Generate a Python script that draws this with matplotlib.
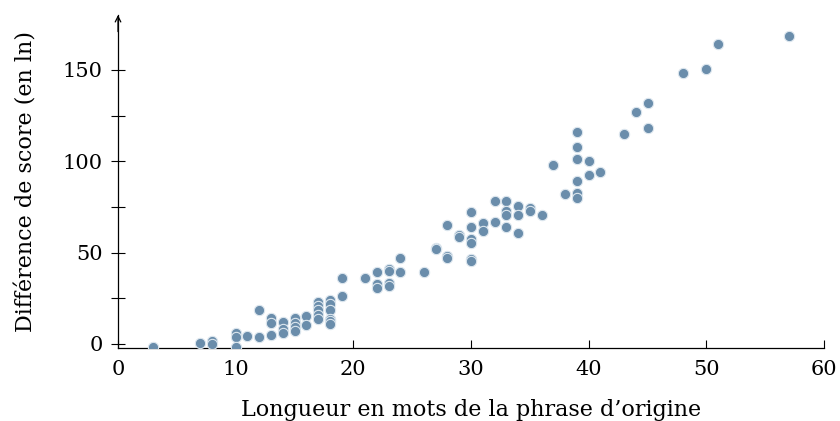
import matplotlib
matplotlib.use("Agg")
import matplotlib.pyplot as plt
import numpy as np

# sentence length (words) and score difference
longueur = [3, 7, 8, 8, 10, 10, 10, 11, 12, 12,
            13, 13, 13, 14, 14, 14, 15, 15, 15, 15,
            16, 16, 17, 17, 17, 17, 17, 18, 18, 18,
            18, 18, 18, 19, 19, 21, 22, 22, 22, 23,
            23, 23, 23, 24, 24, 26, 27, 27, 28, 28,
            28, 29, 29, 30, 30, 30, 30, 30, 30, 31,
            31, 32, 32, 33, 33, 33, 33, 34, 34, 34,
            35, 35, 36, 37, 38, 39, 39, 39, 39, 39,
            39, 40, 40, 41, 43, 44, 45, 45, 48, 50,
            51, 57]
difference = [-1.5, 0.5, 1.6, 0.0, 6.2, 3.7, -1.5, 4.5, 18.6, 3.7,
              14.0, 11.3, 4.9, 12.2, 8.0, 6.2, 14.0, 11.7, 9.5, 7.1,
              15.3, 10.2, 23.2, 21.0, 18.6, 16.0, 13.5, 24.0, 21.7, 18.6,
              13.8, 12.5, 10.8, 36.3, 26.3, 36.3, 39.4, 32.7, 30.5, 41.2,
              40.1, 33.2, 31.9, 47.2, 39.4, 39.6, 52.5, 51.8, 65.0, 48.0,
              47.2, 59.7, 58.4, 72.0, 63.9, 57.5, 55.5, 46.5, 45.3, 66.0,
              62.0, 78.3, 66.6, 78.3, 72.6, 70.5, 64.0, 75.5, 70.4, 60.6,
              74.3, 72.8, 70.3, 98.0, 82.0, 116.0, 107.7, 101.0, 89.0, 82.8,
              80.0, 100.0, 92.7, 94.0, 115.0, 126.8, 132.0, 117.9, 148.0, 150.5,
              164.0, 168.4]

plt.rcParams['font.family'] = ['DejaVu Serif']

fig = plt.figure(figsize=(8.4, 4.21), dpi=100)
ax = fig.add_axes([0.1405, 0.1734, 0.8405, 0.791])

ax.scatter(longueur, difference, s=55, c='#6a8dab', edgecolors='#dce6ee',
           linewidths=0.8, zorder=3)

ax.set_xlim(0, 60)
ax.set_ylim(-2.2, 180)

for side in ['top', 'right']:
    ax.spines[side].set_visible(False)
for side in ['left', 'bottom']:
    ax.spines[side].set_linewidth(0.9)

ax.set_xticks([0, 10, 20, 30, 40, 50, 60])
ax.set_yticks([0, 50, 100, 150])
ax.set_yticks([25, 75, 125], minor=True)
ax.tick_params(axis='x', direction='in', length=6, width=0.8, labelsize=15, pad=9)
ax.tick_params(axis='y', which='both', direction='inout', length=10, width=0.8,
               labelsize=15, pad=6)

ax.annotate('', xy=(0, 1.0), xytext=(0, 0.95), xycoords='axes fraction',
            arrowprops=dict(arrowstyle='->', lw=0.9, color='black',
                            shrinkA=0, shrinkB=0))

ax.set_xlabel('Longueur en mots de la phrase d\u2019origine', fontsize=16, labelpad=14)
ax.set_ylabel('Diff\u00e9rence de score (en ln)', fontsize=16, labelpad=18)

fig.savefig('out.png', dpi=100)
